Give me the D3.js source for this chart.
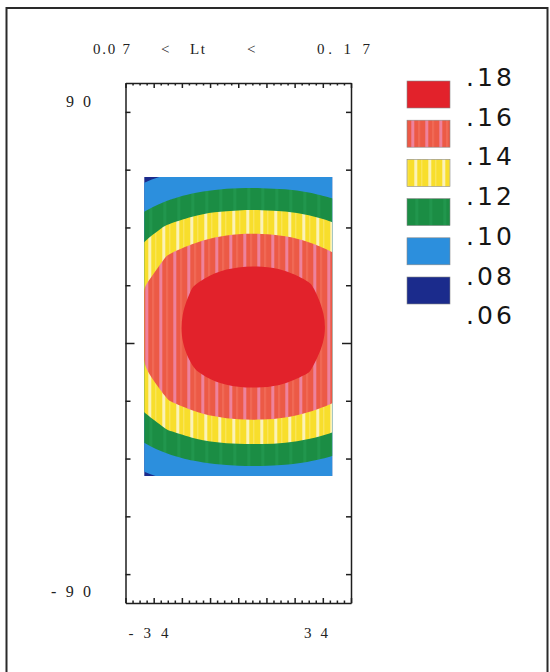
<!DOCTYPE html>
<html><head><meta charset="utf-8">
<script src="https://cdn.jsdelivr.net/npm/d3@7"></script>
<style>html,body{margin:0;padding:0;background:#fff;} svg{display:block}</style>
</head><body>
<svg id="chart" width="550" height="672"></svg>
<script>
// ---------------- data ----------------
const lons = [-50, -40, -30, -20, -10, 0, 10, 20, 30, 40, 50];
const lats = [70, 60, 50, 40, 30, 20, 10, 0, -10, -20, -30, -40, -50, -60];
// estimated field values (rows = lats, columns = lons)
const values = [
 [0.0441,0.0498,0.0543,0.0573,0.0590,0.0597,0.0598,0.0593,0.0578,0.0553,0.0513],
 [0.0643,0.0713,0.0768,0.0805,0.0828,0.0837,0.0838,0.0831,0.0813,0.0780,0.0730],
 [0.0829,0.0917,0.0986,0.1043,0.1078,0.1092,0.1094,0.1084,0.1055,0.1002,0.0938],
 [0.0991,0.1120,0.1225,0.1297,0.1342,0.1361,0.1362,0.1349,0.1313,0.1248,0.1153],
 [0.1140,0.1289,0.1410,0.1477,0.1521,0.1541,0.1543,0.1529,0.1492,0.1430,0.1326],
 [0.1231,0.1396,0.1499,0.1592,0.1667,0.1706,0.1710,0.1682,0.1616,0.1526,0.1426],
 [0.1263,0.1424,0.1537,0.1649,0.1760,0.1790,0.1790,0.1789,0.1681,0.1569,0.1456],
 [0.1261,0.1423,0.1536,0.1647,0.1755,0.1788,0.1790,0.1783,0.1678,0.1567,0.1455],
 [0.1225,0.1388,0.1492,0.1583,0.1653,0.1690,0.1693,0.1667,0.1605,0.1519,0.1421],
 [0.1127,0.1275,0.1397,0.1463,0.1506,0.1524,0.1526,0.1513,0.1477,0.1419,0.1311],
 [0.0976,0.1099,0.1204,0.1274,0.1317,0.1335,0.1336,0.1324,0.1289,0.1227,0.1131],
 [0.0812,0.0898,0.0965,0.1016,0.1051,0.1065,0.1066,0.1056,0.1028,0.0981,0.0918],
 [0.0623,0.0693,0.0746,0.0783,0.0804,0.0813,0.0814,0.0808,0.0791,0.0758,0.0709],
 [0.0420,0.0477,0.0519,0.0549,0.0566,0.0573,0.0573,0.0568,0.0555,0.0529,0.0490]
];
const lonExtent = [-40, 40];
const latExtent = [-46, 57.5];
const levels = [0.06, 0.08, 0.10, 0.12, 0.14, 0.16];
const legendLabels = [".18", ".16", ".14", ".12", ".10", ".08", ".06"];
const xMajorTicks = [-48, -36, -24, -12, 0, 12, 24, 36, 48];
const yTicks = [-80, -60, -40, -20, 0, 20, 40, 60, 80];
const xLabelValues = [-34, 34];
const xLabels = ["- 3 4", "3 4"];
const yLabelValues = [90, -90];
const yLabels = ["9 0", "- 9 0"];
const titleParts = ["0.0 7", "<", "L t", "<", "0. 1 7"];

// ---------------- drawing ----------------
const svg = d3.select("#chart");
const x = d3.scaleLinear().domain([-48, 48]).range([125.5, 351]);
const y = d3.scaleLinear().domain([-90, 90]).range([603, 83]);
const defs = svg.append("defs");

// outer frame
svg.append("rect").attr("x", 6.5).attr("y", 8).attr("width", 541).attr("height", 700)
  .attr("fill", "none").attr("stroke", "#2a2a2a").attr("stroke-width", 2);

function stripePattern(id, base, stripes) {
  const p = defs.append("pattern").attr("id", id).attr("patternUnits", "userSpaceOnUse")
    .attr("width", 14).attr("height", 6).attr("x", x(lonExtent[0]));
  p.append("rect").attr("width", 14).attr("height", 6).attr("fill", base);
  stripes.forEach(s => p.append("rect").attr("x", s[0]).attr("y", 0).attr("width", s[1])
    .attr("height", 6).attr("fill", s[2]).attr("opacity", s[3]));
}
stripePattern("pinkP", "#ec5a46", [[1, 3, "#ef86a6", 0.9], [8, 1.5, "#f27462", 0.8]]);
stripePattern("yelP", "#f8de2c", [[4, 3, "#fbf2b8", 1], [11, 1, "#faea7a", 0.8]]);
stripePattern("grnP", "#1b8d44", [[5, 3, "#249a52", 0.7]]);
const bandFills = ["#1b2b8c", "#2c8fdd", "url(#grnP)", "url(#yelP)", "url(#pinkP)", "#e2222b"];

// clip to data rectangle
const cx0 = x(lonExtent[0]), cx1 = x(lonExtent[1]);
const cy0 = y(latExtent[1]), cy1 = y(latExtent[0]);
defs.append("clipPath").attr("id", "dataClip").append("rect")
  .attr("x", cx0).attr("y", cy0).attr("width", cx1 - cx0).attr("height", cy1 - cy0);

const gx = d3.scaleLinear().domain([0.5, lons.length - 0.5]).range([x(lons[0]), x(lons[lons.length - 1])]);
const gy = d3.scaleLinear().domain([0.5, lats.length - 0.5]).range([y(lats[0]), y(lats[lats.length - 1])]);
const line = d3.line().x(p => gx(p[0])).y(p => gy(p[1])).curve(d3.curveBasisClosed);
const contourData = d3.contours().size([lons.length, lats.length]).thresholds(levels)(values.flat());

svg.append("g").attr("clip-path", "url(#dataClip)")
  .selectAll("path").data(contourData).join("path")
  .attr("d", c => c.coordinates.map(poly => poly.map(ring => line(ring.slice(0, -1))).join("")).join(""))
  .attr("fill", (c, i) => bandFills[i])
  .attr("fill-rule", "evenodd");

// axes
const axisColor = "#1e1e1e";
function styleAxis(g) {
  g.selectAll("path,line").attr("stroke", axisColor).attr("stroke-width", 1.5);
  g.selectAll("text").remove();
}
const xMinor = d3.range(-48, 48.01, 3).filter(v => !xMajorTicks.includes(v));

// bottom
svg.append("g").attr("transform", `translate(0,${y(-90)})`)
  .call(d3.axisTop(x).tickValues(xMajorTicks).tickSize(5).tickSizeOuter(0).tickFormat("")).call(styleAxis);
svg.append("g").attr("transform", `translate(0,${y(-90)})`)
  .call(d3.axisTop(x).tickValues(xMinor).tickSize(2.5).tickSizeOuter(0).tickFormat(""))
  .call(styleAxis).call(g => g.select(".domain").remove());
// top
svg.append("g").attr("transform", `translate(0,${y(90)})`)
  .call(d3.axisBottom(x).tickValues(xMajorTicks).tickSize(5).tickSizeOuter(0).tickFormat("")).call(styleAxis);
svg.append("g").attr("transform", `translate(0,${y(90)})`)
  .call(d3.axisBottom(x).tickValues(xMinor).tickSize(2.5).tickSizeOuter(0).tickFormat(""))
  .call(styleAxis).call(g => g.select(".domain").remove());
// left
svg.append("g").attr("transform", `translate(${x(-48)},0)`)
  .call(d3.axisRight(y).tickValues(yTicks).tickSize(5).tickSizeOuter(0).tickFormat("")).call(styleAxis)
  .call(g => g.selectAll(".tick").filter(d => d === 0).select("line").attr("x2", 9));
// right
svg.append("g").attr("transform", `translate(${x(48)},0)`)
  .call(d3.axisLeft(y).tickValues(yTicks).tickSize(5).tickSizeOuter(0).tickFormat("")).call(styleAxis)
  .call(g => g.selectAll(".tick").filter(d => d === 0).select("line").attr("x2", -9));

// tick labels
const serif = "'Liberation Serif','DejaVu Serif',serif";
svg.selectAll("text.xl").data(xLabels).join("text").attr("class", "xl")
  .attr("x", (d, i) => x(xLabelValues[i]) + 10).attr("y", y(-90) + 35)
  .attr("text-anchor", "end").attr("font-family", serif).attr("font-size", 15).attr("fill", "#222")
  .attr("textLength", (d, i) => i === 0 ? 40 : 24).attr("lengthAdjust", "spacing")
  .text(d => d);
svg.selectAll("text.yl").data(yLabels).join("text").attr("class", "yl")
  .attr("x", 91).attr("y", (d, i) => y(yLabelValues[i]) + (i === 0 ? 24 : -6))
  .attr("text-anchor", "end").attr("font-family", serif).attr("font-size", 16).attr("fill", "#222")
  .attr("textLength", (d, i) => i === 0 ? 25 : 40).attr("lengthAdjust", "spacing")
  .text(d => d);

// title
const titleX = [93, 161, 190, 247, 317];
const titleLen = [37, 0, 15, 0, 53];
svg.selectAll("text.tt").data(titleParts).join("text").attr("class", "tt")
  .attr("x", (d, i) => titleX[i]).attr("y", 54)
  .attr("font-family", serif).attr("font-size", 15).attr("fill", "#222")
  .each(function (d, i) { if (titleLen[i]) d3.select(this).attr("textLength", titleLen[i]).attr("lengthAdjust", "spacing"); })
  .text(d => d);

// legend
const legendFills = bandFills.slice().reverse();
const lg = svg.append("g");
lg.selectAll("rect").data(legendFills).join("rect")
  .attr("x", 407).attr("y", (d, i) => 81 + i * 39.2).attr("width", 43).attr("height", 27)
  .attr("fill", d => d).attr("stroke", "#888").attr("stroke-width", 0.6);
lg.selectAll("text").data(legendLabels).join("text")
  .attr("x", 466).attr("y", (d, i) => 86 + i * 39.7)
  .attr("font-family", "'DejaVu Sans','Liberation Sans',sans-serif").attr("font-size", 25).attr("fill", "#151515")
  .attr("textLength", 46).attr("lengthAdjust", "spacing")
  .text(d => d);
</script>
</body></html>
